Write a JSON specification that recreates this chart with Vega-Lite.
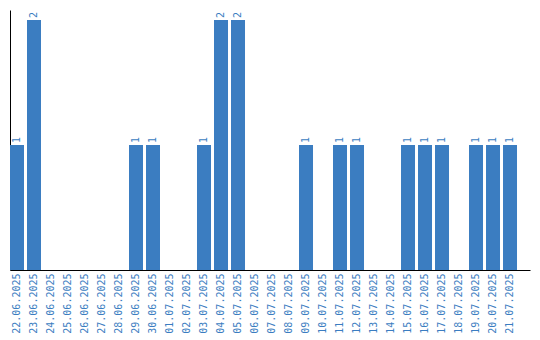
{
  "$schema": "https://vega.github.io/schema/vega-lite/v6.json",
  "autosize": "none",
  "width": 520,
  "height": 260,
  "padding": {"left": 10, "top": 10, "right": 10, "bottom": 70},
  "background": "white",
  "config": {"view": {"stroke": null}},
  "data": {"values": [
    {"date": "22.06.2025", "value": 1},
    {"date": "23.06.2025", "value": 2},
    {"date": "24.06.2025", "value": 0},
    {"date": "25.06.2025", "value": 0},
    {"date": "26.06.2025", "value": 0},
    {"date": "27.06.2025", "value": 0},
    {"date": "28.06.2025", "value": 0},
    {"date": "29.06.2025", "value": 1},
    {"date": "30.06.2025", "value": 1},
    {"date": "01.07.2025", "value": 0},
    {"date": "02.07.2025", "value": 0},
    {"date": "03.07.2025", "value": 1},
    {"date": "04.07.2025", "value": 2},
    {"date": "05.07.2025", "value": 2},
    {"date": "06.07.2025", "value": 0},
    {"date": "07.07.2025", "value": 0},
    {"date": "08.07.2025", "value": 0},
    {"date": "09.07.2025", "value": 1},
    {"date": "10.07.2025", "value": 0},
    {"date": "11.07.2025", "value": 1},
    {"date": "12.07.2025", "value": 1},
    {"date": "13.07.2025", "value": 0},
    {"date": "14.07.2025", "value": 0},
    {"date": "15.07.2025", "value": 1},
    {"date": "16.07.2025", "value": 1},
    {"date": "17.07.2025", "value": 1},
    {"date": "18.07.2025", "value": 0},
    {"date": "19.07.2025", "value": 1},
    {"date": "20.07.2025", "value": 1},
    {"date": "21.07.2025", "value": 1}
  ]},
  "encoding": {
    "x": {
      "field": "date", "type": "nominal", "sort": null, "title": null,
      "scale": {"paddingInner": 0.1765, "paddingOuter": 0.382, "align": 0},
      "axis": {
        "labelAngle": 270, "labelAlign": "right", "labelBaseline": "middle",
        "labelFont": "DejaVu Sans Mono", "labelFontSize": 10, "labelColor": "#3b7dc1",
        "labelPadding": 3, "ticks": false, "domainColor": "#000000", "domainWidth": 1, "grid": false
      }
    },
    "y": {
      "field": "value", "type": "quantitative", "title": null,
      "scale": {"domain": [0, 2.08], "nice": false},
      "axis": {"labels": false, "ticks": false, "grid": false, "domainColor": "#000000", "domainWidth": 1}
    }
  },
  "layer": [
    {"mark": {"type": "bar", "color": "#3b7dc1"}},
    {
      "transform": [{"filter": "datum.value > 0"}],
      "mark": {"type": "text", "angle": 270, "align": "left", "baseline": "middle", "dx": 2,
               "font": "DejaVu Sans Mono", "fontSize": 10, "color": "#3b7dc1"},
      "encoding": {"text": {"field": "value", "type": "quantitative"}}
    }
  ]
}
